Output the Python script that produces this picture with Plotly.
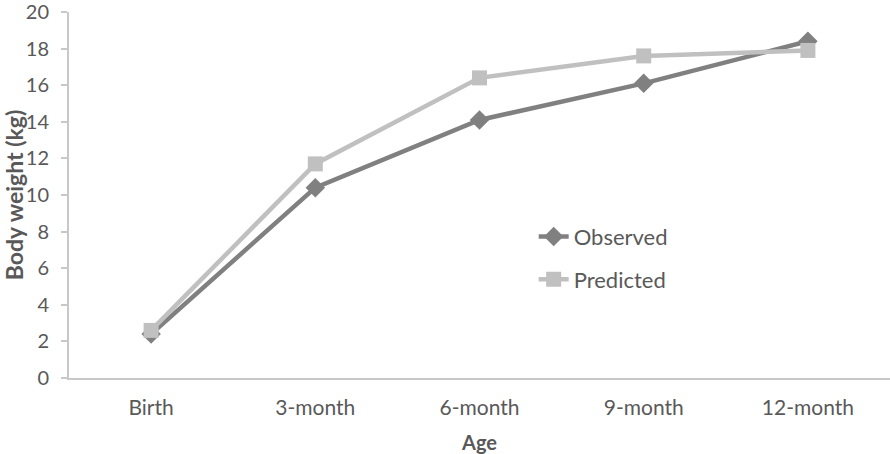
import plotly.graph_objects as go

categories = ["Birth", "3-month", "6-month", "9-month", "12-month"]
observed = [2.4, 10.4, 14.1, 16.1, 18.4]
predicted = [2.6, 11.7, 16.4, 17.6, 17.9]
y_ticks = list(range(0, 21, 2))

FONT = "Lato"
TXT = "#595959"

fig = go.Figure()
fig.add_trace(go.Scatter(
    x=categories, y=observed, name="Observed", mode="lines+markers",
    line=dict(color="#808080", width=4.5),
    marker=dict(symbol="diamond", size=15, color="#808080"),
    legendgroup="a",
))
fig.add_trace(go.Scatter(
    x=categories, y=predicted, name="Predicted", mode="lines+markers",
    line=dict(color="#c0c0c0", width=4.5),
    marker=dict(symbol="square", size=15, color="#c0c0c0"),
    legendgroup="b",
))

fig.update_layout(
    width=890, height=454,
    margin=dict(l=69, r=0, t=12, b=76),
    paper_bgcolor="white", plot_bgcolor="white",
    font=dict(family=FONT, size=21, color=TXT),
    showlegend=True,
    legend=dict(
        x=0.566, y=0.327, xanchor="left", yanchor="middle",
        font=dict(family=FONT, size=22, color=TXT),
        tracegroupgap=11, traceorder="grouped",
        bgcolor="rgba(0,0,0,0)",
    ),
    xaxis=dict(
        type="category", range=[-0.5, 4.5],
        automargin=False,
        showline=True, linecolor="#c8c8c8", linewidth=2,
        showgrid=False, ticks="", zeroline=False,
        ticklabelstandoff=10,
        tickfont=dict(family=FONT, size=21, color=TXT),
        title=dict(text="<b>Age</b>", font=dict(family=FONT, size=20, color=TXT), standoff=27),
    ),
    yaxis=dict(
        range=[0, 20], tickmode="array", tickvals=y_ticks,
        automargin=False, ticklabeloverflow="allow",
        showline=True, linecolor="#c8c8c8", linewidth=2,
        showgrid=False, zeroline=False,
        ticks="outside", ticklen=6, tickcolor="#c8c8c8", tickwidth=2,
        ticklabelstandoff=8,
        tickfont=dict(family=FONT, size=20, color=TXT),
        title=dict(text="<b>Body weight (kg)</b>", font=dict(family=FONT, size=23, color=TXT), standoff=1),
    ),
)

fig.write_html("out.html")
